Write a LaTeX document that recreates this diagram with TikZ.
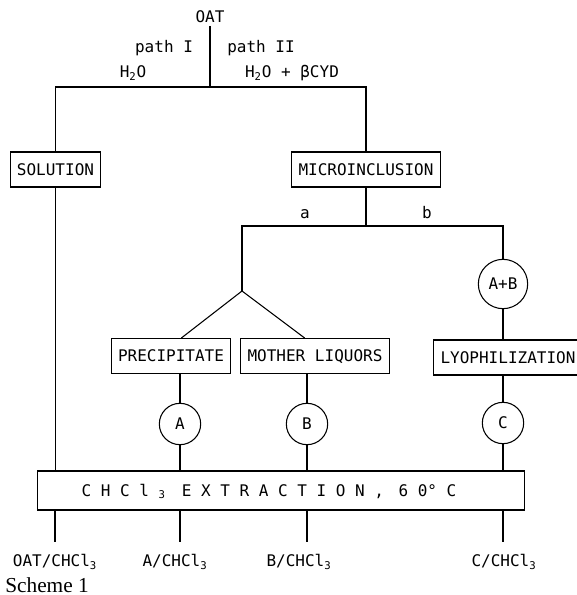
\documentclass[tikz,border=0pt]{standalone}
\usepackage{fontspec}
\usepackage{tikz}
\usetikzlibrary{positioning}
\newfontfamily\plotfont{DejaVu Sans Mono}
\newfontfamily\schemefont{Liberation Serif}
\tikzset{
  stage/.style={
    draw,
    line width=0.8pt,
    inner xsep=5pt,
    minimum height=26.25pt,
    text height=8.75pt,
    text depth=0pt,
    font=\plotfont\fontsize{12pt}{14pt}\selectfont
  },
  sample/.style={
    circle,
    draw,
    line width=0.8pt,
    inner sep=0pt,
    minimum size=31pt,
    text height=8.75pt,
    text depth=0pt,
    font=\plotfont\fontsize{12pt}{14pt}\selectfont
  },
  bigsample/.style={
    sample,
    minimum size=37pt
  },
  tag/.style={
    inner sep=2pt,
    text height=8.75pt,
    text depth=0pt,
    font=\plotfont\fontsize{12pt}{14pt}\selectfont
  },
  outlbl/.style={
    tag,
    anchor=north,
    inner xsep=0pt,
    inner ysep=9.75pt
  },
  link/.style={
    line width=0.8pt
  }
}
\begin{document}
\begin{tikzpicture}[x=0.75pt,y=-0.75pt]
\useasboundingbox (0,0) rectangle (577,595);
\clip (0,0) rectangle (577,595);
\node[tag] (oat) at (210,17) {OAT};
\node[tag] (pathone) at (164,47) {path I};
\node[tag] (pathtwo) at (261,47) {path II};
\node[tag] (waterone) at (133,72) {H\textsubscript{2}O};
\node[tag] (watertwo) at (292,72) {H\textsubscript{2}O + βCYD};
\coordinate (split) at (210,87);
\node[stage] (solution) at (55.5,169.5) {SOLUTION};
\node[stage] (micro) at (366,169.5) {MICROINCLUSION};
\coordinate (fork) at (366,226);
\node[tag] (waya) at (305,213) {a};
\node[tag] (wayb) at (427,213) {b};
\coordinate (apex) at (242,291);
\node[stage] (precip) at (171,356) {PRECIPITATE};
\node[stage] (mother) at (315,356) {MOTHER LIQUORS};
\node[bigsample] (mix) at (503,284) {A+B};
\node[stage] (lyoph) at (508,357.5) {LYOPHILIZATION};
\node[sample] (sa) at (180,424) {A};
\node[sample] (sb) at (307,424) {B};
\node[sample] (sc) at (503,423) {C};
\node[stage,minimum width=365.6pt,minimum height=29.25pt] (extr) at (281,490.5) {C H C l \textsubscript{3}\hspace{1em}E X T R A C T I O N ,\hspace{0.9em}6 0° C\hspace*{1.5em}};
\node[outlbl] (outoat) at (55,542) {OAT/CHCl\textsubscript{3}};
\node[outlbl] (outa) at (175,542) {A/CHCl\textsubscript{3}};
\node[outlbl] (outb) at (299,542) {B/CHCl\textsubscript{3}};
\node[outlbl] (outc) at (504,542) {C/CHCl\textsubscript{3}};
\node[anchor=base west,inner sep=0pt,font=\schemefont\fontsize{16pt}{19pt}\selectfont] (scheme) at (5,592) {Scheme 1};
\draw[link] (oat) -- (split);
\draw[link] (solution) |- (split) -| (micro);
\draw[link] (micro) -- (fork);
\draw[link] (apex) |- (fork) -| (mix);
\draw[link] (precip.60) -- (apex) -- (mother.120);
\draw[link] (mix) -- (mix |- lyoph.north);
\draw[link] (sa |- precip.south) -- (sa);
\draw[link] (sb |- mother.south) -- (sb);
\draw[link] (sc |- lyoph.south) -- (sc);
\draw[link] (solution) -- (solution |- extr.north);
\draw[link] (sa) -- (sa |- extr.north);
\draw[link] (sb) -- (sb |- extr.north);
\draw[link] (sc) -- (sc |- extr.north);
\draw[link] (outoat.north |- extr.south) -- (outoat);
\draw[link] (sa |- extr.south) -- (sa |- outa.north);
\draw[link] (sb |- extr.south) -- (sb |- outb.north);
\draw[link] (sc |- extr.south) -- (sc |- outc.north);
\end{tikzpicture}
\end{document}
